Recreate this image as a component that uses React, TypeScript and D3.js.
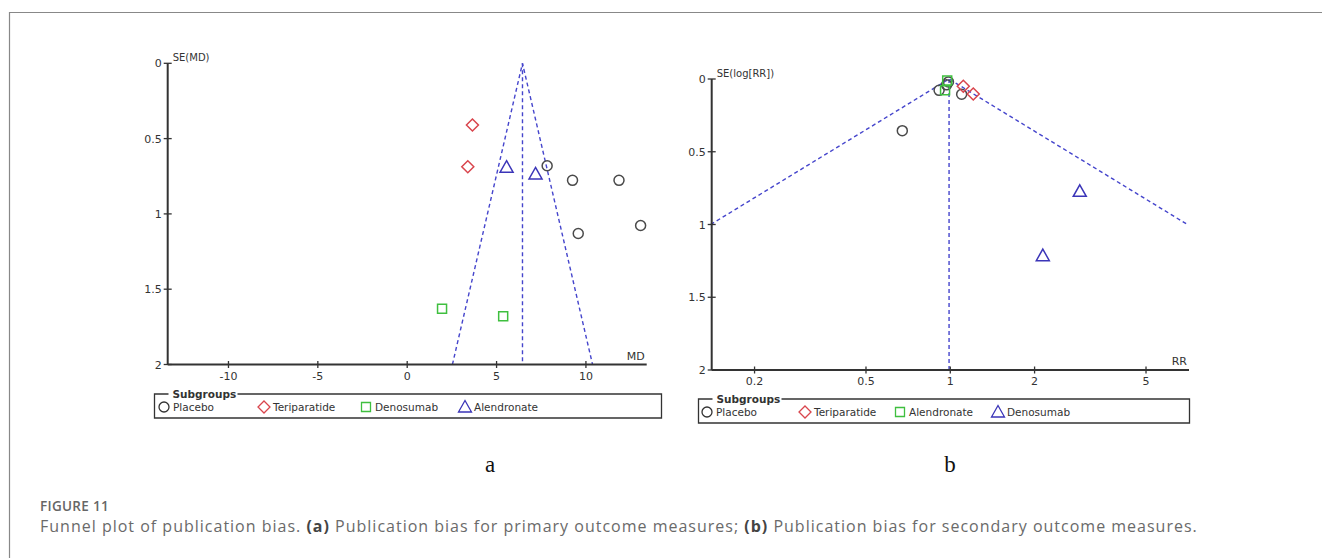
import React, { useEffect, useRef } from 'react';
import * as d3 from 'd3';

// ---- panel a (MD) ----
const aPlacebo = [
  { x: 7.83, se: 0.68 },
  { x: 9.25, se: 0.777 },
  { x: 11.85, se: 0.777 },
  { x: 13.06, se: 1.077 },
  { x: 9.57, se: 1.13 },
];
const aTeriparatide = [
  { x: 3.65, se: 0.41 },
  { x: 3.39, se: 0.687 },
];
const aDenosumab = [
  { x: 1.95, se: 1.63 },
  { x: 5.37, se: 1.68 },
];
const aAlendronate = [
  { x: 5.56, se: 0.69 },
  { x: 7.18, se: 0.735 },
];
const aPooled = 6.45;
const aXTicks = [-10, -5, 0, 5, 10];
const aYTicks = [0, 0.5, 1, 1.5, 2];
const aLegend = ['Placebo', 'Teriparatide', 'Denosumab', 'Alendronate'];

// ---- panel b (RR) ----
const bPlacebo = [
  { x: 0.674, se: 0.355 },
  { x: 0.912, se: 0.078 },
  { x: 1.098, se: 0.105 },
  { x: 0.985, se: 0.02 },
  { x: 0.97, se: 0.04 },
];
const bTeriparatide = [
  { x: 1.113, se: 0.05 },
  { x: 1.208, se: 0.103 },
];
const bAlendronate = [
  { x: 0.975, se: 0.01 },
  { x: 0.958, se: 0.078 },
];
const bDenosumab = [
  { x: 2.9, se: 0.772 },
  { x: 2.14, se: 1.214 },
];
const bPooled = 0.99;
const bXTicks = [0.2, 0.5, 1, 2, 5];
const bYTicks = [0, 0.5, 1, 1.5, 2];
const bLegend = ['Placebo', 'Teriparatide', 'Alendronate', 'Denosumab'];

const COLORS = {
  circle: '#4a4a4a',
  diamond: '#d9454d',
  square: '#3fbf3f',
  triangle: '#3b35b8',
};
const FUNNEL = '#4545cc';
const AXIS = '#333';
const FONT = 'DejaVu Sans, sans-serif';

type Shape = 'circle' | 'diamond' | 'square' | 'triangle';

const markerPath = (shape: Shape) => {
  switch (shape) {
    case 'circle':
      return 'M5,0A5,5 0 1,1 -5,0A5,5 0 1,1 5,0Z';
    case 'diamond':
      return 'M0,-6L6,0L0,6L-6,0Z';
    case 'square':
      return 'M-4.5,-4.5H4.5V4.5H-4.5Z';
    default:
      return 'M0,-6.5L6.5,5L-6.5,5Z';
  }
};

const shapes: Shape[] = ['circle', 'diamond', 'square', 'triangle'];

const App = () => {
  const svgRef = useRef<SVGSVGElement>(null);

  useEffect(() => {
    const svg = d3.select(svgRef.current);
    svg.selectAll('*').remove();

    svg.append('rect').attr('width', 1322).attr('height', 558).attr('fill', '#fff');

    // figure frame
    svg.append('path')
      .attr('d', 'M9.5,558V12.5H1322')
      .attr('fill', 'none')
      .attr('stroke', '#888')
      .attr('stroke-width', 1.2);

    const drawPanel = (opts: any) => {
      const { x, y, groups, pooled, xTicks, yTicks, xLabel, yLabel, legend, legendBox, funnelMax, log, tickFmt } = opts;
      const g = svg.append('g');
      const [x0, x1] = x.range();
      const [yBottom, yTop] = y.range();

      // funnel
      const left = (se: number) => (log ? pooled * Math.exp(-1.96 * se) : pooled - 1.96 * se);
      const right = (se: number) => (log ? pooled * Math.exp(1.96 * se) : pooled + 1.96 * se);
      const lineGen = d3.line<[number, number]>().x(d => x(d[0])).y(d => y(d[1]));
      const dash = (d: [number, number][]) =>
        g.append('path')
          .attr('d', lineGen(d))
          .attr('fill', 'none')
          .attr('stroke', FUNNEL)
          .attr('stroke-width', 1.4)
          .attr('stroke-dasharray', '4,3');
      dash([[left(funnelMax), funnelMax], [pooled, 0], [right(funnelMax), funnelMax]]);
      dash([[pooled, 0], [pooled, 2]]);

      // points
      groups.forEach((pts: { x: number; se: number }[], i: number) => {
        const shape = shapes[i];
        g.selectAll(null)
          .data(pts)
          .enter()
          .append('path')
          .attr('d', markerPath(shape))
          .attr('transform', d => `translate(${x(d.x)},${y(d.se)})`)
          .attr('fill', 'none')
          .attr('stroke', COLORS[shape])
          .attr('stroke-width', 1.5);
      });

      // axes
      g.append('line')
        .attr('x1', x0).attr('x2', x1)
        .attr('y1', yBottom).attr('y2', yBottom)
        .attr('stroke', AXIS).attr('stroke-width', 2);
      g.append('line')
        .attr('x1', x0).attr('x2', x0)
        .attr('y1', yTop).attr('y2', yBottom)
        .attr('stroke', AXIS).attr('stroke-width', 2);

      xTicks.forEach((t: number) => {
        g.append('line')
          .attr('x1', x(t)).attr('x2', x(t))
          .attr('y1', yBottom - 3.5).attr('y2', yBottom + 3.5)
          .attr('stroke', AXIS).attr('stroke-width', 1.3);
        g.append('text')
          .attr('x', x(t)).attr('y', yBottom + 15)
          .attr('text-anchor', 'middle')
          .attr('font-family', FONT).attr('font-size', 11)
          .attr('fill', '#333')
          .text(tickFmt(t));
      });
      yTicks.forEach((t: number) => {
        g.append('line')
          .attr('x1', x0 - 4).attr('x2', x0 + 4)
          .attr('y1', y(t)).attr('y2', y(t))
          .attr('stroke', AXIS).attr('stroke-width', 1.3);
        g.append('text')
          .attr('x', x0 - 6).attr('y', y(t) + 4)
          .attr('text-anchor', 'end')
          .attr('font-family', FONT).attr('font-size', 11)
          .attr('fill', '#333')
          .text(String(t));
      });

      g.append('text')
        .attr('x', x0 + 5).attr('y', yTop - 2)
        .attr('font-family', FONT).attr('font-size', 10)
        .attr('fill', '#333')
        .text(yLabel);
      g.append('text')
        .attr('x', x1 - 2).attr('y', yBottom - 5)
        .attr('text-anchor', 'end')
        .attr('font-family', FONT).attr('font-size', 11)
        .attr('fill', '#333')
        .text(xLabel);

      // legend
      const { lx, ly, lw, lh, itemX } = legendBox;
      g.append('path')
        .attr('d', `M${lx + 14},${ly}H${lx}V${ly + lh}H${lx + lw}V${ly}H${lx + 83}`)
        .attr('fill', 'none')
        .attr('stroke', '#333')
        .attr('stroke-width', 1.3);
      g.append('text')
        .attr('x', lx + 18).attr('y', ly + 4)
        .attr('font-family', FONT).attr('font-size', 10.5)
        .attr('font-weight', 'bold')
        .attr('fill', '#333')
        .text('Subgroups');
      legend.forEach((name: string, i: number) => {
        const shape = shapes[i];
        const cy = ly + lh / 2 + 1;
        g.append('path')
          .attr('d', markerPath(shape))
          .attr('transform', `translate(${itemX[i]},${cy})`)
          .attr('fill', 'none')
          .attr('stroke', shape === 'circle' ? '#333' : COLORS[shape])
          .attr('stroke-width', 1.3);
        g.append('text')
          .attr('x', itemX[i] + 9).attr('y', cy + 4)
          .attr('font-family', FONT).attr('font-size', 10.5)
          .attr('fill', '#333')
          .text(name);
      });
    };

    drawPanel({
      x: d3.scaleLinear().domain([-13.4, 13.4]).range([167.7, 646.7]),
      y: d3.scaleLinear().domain([2, 0]).range([364.5, 63.3]),
      groups: [aPlacebo, aTeriparatide, aDenosumab, aAlendronate],
      pooled: aPooled,
      xTicks: aXTicks,
      yTicks: aYTicks,
      xLabel: 'MD',
      yLabel: 'SE(MD)',
      legend: aLegend,
      legendBox: { lx: 154.5, ly: 394, lw: 507, lh: 24, itemX: [164, 264, 366, 465] },
      funnelMax: 2,
      log: false,
      tickFmt: (t: number) => String(t),
    });

    drawPanel({
      x: d3.scaleLog().domain([0.1406, 7.12]).range([711.7, 1189]),
      y: d3.scaleLinear().domain([2, 0]).range([370, 79]),
      groups: [bPlacebo, bTeriparatide, bAlendronate, bDenosumab],
      pooled: bPooled,
      xTicks: bXTicks,
      yTicks: bYTicks,
      xLabel: 'RR',
      yLabel: 'SE(log[RR])',
      legend: bLegend,
      legendBox: { lx: 698.5, ly: 399, lw: 491, lh: 24, itemX: [707, 805, 900, 998] },
      funnelMax: 1,
      log: true,
      tickFmt: (t: number) => String(t),
    });

    // panel letters
    [['a', 490], ['b', 950]].forEach(([t, px]) => {
      svg.append('text')
        .attr('x', px as number).attr('y', 472)
        .attr('text-anchor', 'middle')
        .attr('font-family', 'Liberation Serif, serif')
        .attr('font-size', 23)
        .attr('fill', '#111')
        .text(t as string);
    });

    // caption
    svg.append('text')
      .attr('x', 40).attr('y', 511)
      .attr('font-family', 'Open Sans, sans-serif')
      .attr('font-size', 13.5)
      .attr('font-weight', 600)
      .attr('letter-spacing', 0.3)
      .attr('fill', '#666')
      .text('FIGURE 11');
    const cap = svg.append('text')
      .attr('x', 40).attr('y', 532)
      .attr('font-family', 'Open Sans, sans-serif')
      .attr('font-size', 16)
      .attr('letter-spacing', 1)
      .attr('fill', '#6a6a6a');
    cap.append('tspan').text('Funnel plot of publication bias. ');
    cap.append('tspan').attr('font-weight', 700).attr('fill', '#444').text('(a)');
    cap.append('tspan').text(' Publication bias for primary outcome measures; ');
    cap.append('tspan').attr('font-weight', 700).attr('fill', '#444').text('(b)');
    cap.append('tspan').text(' Publication bias for secondary outcome measures.');
  }, []);

  return (
    <svg
      ref={svgRef}
      width={1322}
      height={558}
      style={{ position: 'absolute', left: 0, top: 0, display: 'block' }}
    />
  );
};

export default App;
